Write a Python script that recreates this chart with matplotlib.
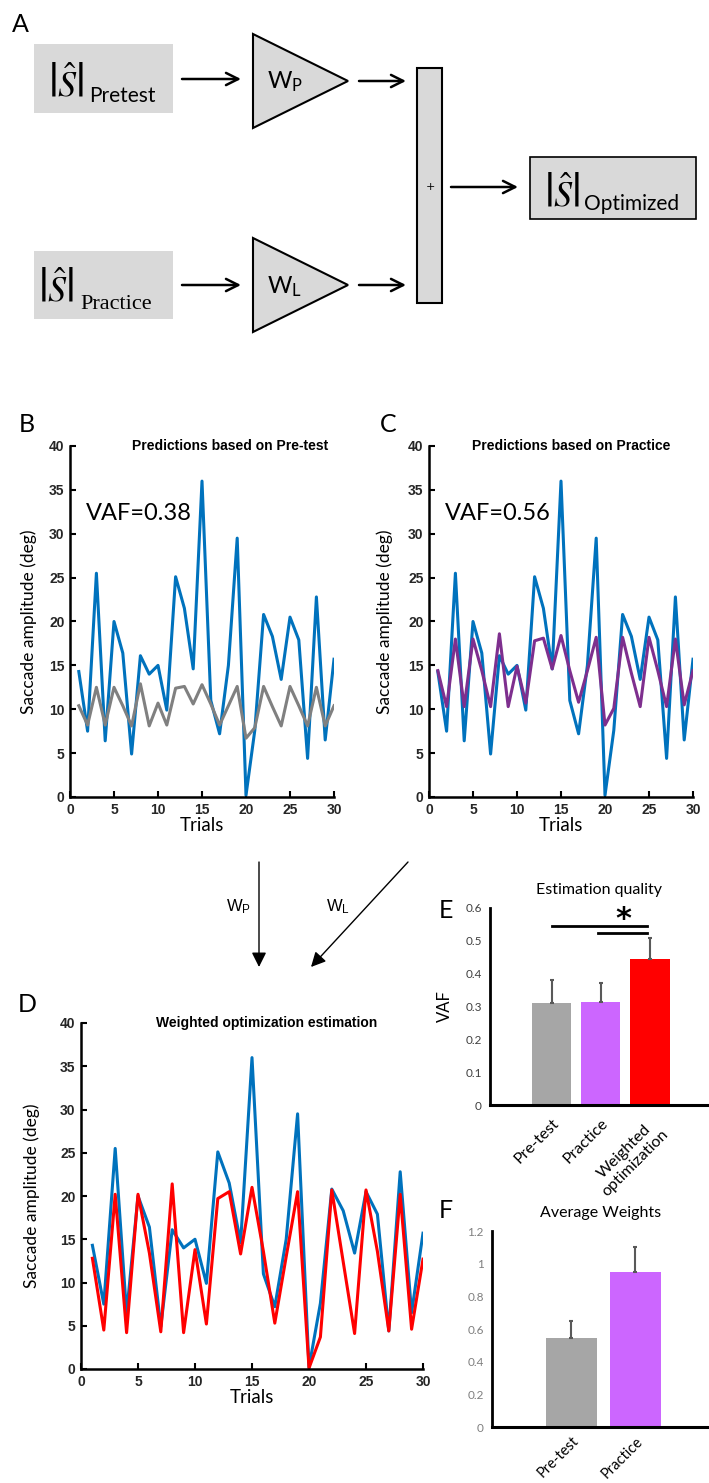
import matplotlib
matplotlib.use('Agg')
import matplotlib.pyplot as plt
from matplotlib.patches import Polygon, Rectangle
import numpy as np

plt.rcParams['mathtext.fontset'] = 'stix'

# dados
trials = np.arange(1, 31)
actual = [14.3, 7.5, 25.5, 6.4, 20.0, 16.4, 4.9, 16.1, 14.0, 15.0, 9.9, 25.1, 21.5, 14.6, 36.0,
          11.0, 7.2, 15.0, 29.5, 0.2, 7.6, 20.8, 18.3, 13.4, 20.5, 17.9, 4.4, 22.8, 6.5, 15.7]
pretest_pred = [10.4, 8.2, 12.5, 8.2, 12.5, 10.4, 8.1, 12.9, 8.1, 10.7, 8.2, 12.4, 12.6, 10.6, 12.8,
                10.6, 8.2, 10.4, 12.6, 6.7, 7.9, 12.6, 10.3, 8.1, 12.6, 10.4, 8.1, 12.5, 8.1, 10.4]
practice_pred = [14.4, 10.3, 18.0, 10.3, 18.0, 14.4, 10.3, 18.6, 10.3, 14.9, 10.7, 17.8, 18.1, 14.6, 18.4,
                 14.4, 10.8, 14.4, 18.2, 8.2, 10.1, 18.2, 14.1, 10.3, 18.2, 14.4, 10.3, 18.0, 10.5, 14.4]
weighted_pred = [12.8, 4.5, 20.2, 4.2, 20.2, 13.4, 4.3, 21.4, 4.2, 13.8, 5.2, 19.7, 20.5, 13.3, 21.0,
                 13.6, 5.3, 13.0, 20.5, 0.1, 3.7, 20.7, 12.4, 4.1, 20.7, 13.6, 4.4, 20.2, 4.6, 12.7]
vaf_pretest = 0.38
vaf_practice = 0.56

vaf_groups = ['Pre-test', 'Practice', 'Weighted\noptimization']
vaf_mean = [0.31, 0.314, 0.445]
vaf_err = [0.072, 0.057, 0.065]
weight_groups = ['Pre-test', 'Practice']
weight_mean = [0.543, 0.949]
weight_err = [0.108, 0.156]

W, H = 709, 1483
fig = plt.figure(figsize=(W / 100, H / 100), dpi=100)

def px_axes(l, t, r, b):
    return fig.add_axes([l / W, 1 - b / H, (r - l) / W, (b - t) / H])

# camada de fundo em pixels (diagrama A, setas, letras)
ov = fig.add_axes([0, 0, 1, 1])
ov.set_xlim(0, W)
ov.set_ylim(H, 0)
ov.set_axis_off()

gray = '#d9d9d9'
ov.add_patch(Rectangle((34, 44), 139, 69, fc=gray, ec='none'))
ov.add_patch(Rectangle((34, 251), 139, 68, fc=gray, ec='none'))
ov.add_patch(Polygon([(253, 34), (253, 128), (348, 81)], closed=True, fc=gray, ec='k', lw=1.5))
ov.add_patch(Polygon([(253, 238), (253, 332), (348, 285)], closed=True, fc=gray, ec='k', lw=1.5))
ov.add_patch(Rectangle((417, 68), 25, 235, fc=gray, ec='k', lw=1.5))
ov.add_patch(Rectangle((530, 157), 166, 62, fc=gray, ec='k', lw=1.2))

def seta(x0, y0, x1, y1, estilo='->', lw=1.8, ms=22):
    ov.annotate('', xy=(x1, y1), xytext=(x0, y0),
                arrowprops=dict(arrowstyle=estilo, lw=lw, color='k', mutation_scale=ms,
                                shrinkA=0, shrinkB=0))

seta(182, 79, 241, 79)
seta(359, 81, 406, 81)
seta(182, 285, 241, 285)
seta(359, 285, 406, 285)
seta(451, 187, 518, 187)
seta(259, 862, 259, 967, estilo='-|>', lw=1, ms=22)
seta(408, 862, 311, 967, estilo='-|>', lw=1, ms=22)

shat = r'$\left|\hat{S}\right|$'
ov.text(48, 84, shat, fontsize=26, va='center', ha='left')
ov.text(89, 102, 'Pretest', fontsize=15, family='Lato', va='baseline')
ov.text(38, 289, shat, fontsize=26, va='center', ha='left')
ov.text(80, 309, 'Practice', fontsize=16, family='Liberation Serif', va='baseline')
ov.text(544, 194, shat, fontsize=26, va='center', ha='left')
ov.text(584, 210, 'Optimized', fontsize=15, family='Lato', va='baseline')
ov.text(267, 89, r'W$_{\mathregular{P}}$', fontsize=17, family='Lato', va='baseline')
ov.text(267, 294, r'W$_{\mathregular{L}}$', fontsize=17, family='Lato', va='baseline')
ov.text(430, 187, '+', fontsize=8, ha='center', va='center')
ov.text(226, 912, r'W$_{\mathregular{P}}$', fontsize=12, family='Liberation Sans', va='baseline')
ov.text(326, 912, r'W$_{\mathregular{L}}$', fontsize=12, family='Liberation Sans', va='baseline')

for letra, x, y in [('A', 20, 24), ('B', 27, 425), ('C', 388, 425), ('D', 27, 1004),
                    ('E', 446, 911), ('F', 446, 1210)]:
    ov.text(x, y, letra, fontsize=18, family='Lato', ha='center', va='center')

def painel_linhas(ax, pred, cor, titulo, tx, vaf=None, ylab_x=-0.125):
    ax.plot(trials, actual, color='#0072bd', lw=2.2)
    ax.plot(trials, pred, color=cor, lw=2.2)
    ax.set_xlim(0, 30)
    ax.set_ylim(0, 40)
    ax.set_xticks(range(0, 31, 5))
    ax.set_yticks(range(0, 41, 5))
    for s in ['top', 'right']:
        ax.spines[s].set_visible(False)
    for s in ['left', 'bottom']:
        ax.spines[s].set_linewidth(1.8)
    ax.tick_params(direction='in', length=4, width=1.5, labelsize=10, labelcolor='#262626', pad=4)
    for lab in ax.get_xticklabels() + ax.get_yticklabels():
        lab.set_fontweight('bold')
        lab.set_family('Liberation Sans')
    ax.text(tx, 1.0, titulo, transform=ax.transAxes, ha='center', va='center',
            fontsize=10, fontweight='bold', family='Liberation Sans')
    ax.set_xlabel('Trials', family='Lato', fontsize=13.5, labelpad=0)
    ax.set_ylabel('Saccade amplitude (deg)', family='Lato', fontsize=12.5)
    ax.yaxis.set_label_coords(ylab_x, 0.5)
    if vaf is not None:
        ax.text(1.8, 32.3, 'VAF=%.2f' % vaf, fontsize=17, family='Lato', va='center')

axB = px_axes(70, 446, 334, 797)
painel_linhas(axB, pretest_pred, '#808080', 'Predictions based on Pre-test', 0.606, vaf_pretest, -0.125)
axC = px_axes(429, 446, 693, 797)
painel_linhas(axC, practice_pred, '#7e2f8e', 'Predictions based on Practice', 0.54, vaf_practice, -0.136)
axD = px_axes(81, 1023, 423, 1369)
painel_linhas(axD, weighted_pred, '#ff0000', 'Weighted optimization estimation', 0.544, None, -0.12)

def painel_barras(ax, grupos, medias, erros, cores, titulo, ylim, yticks, tickcor, xsize=11.5, xpad=8):
    x = np.arange(1, len(grupos) + 1)
    ax.bar(x, medias, width=0.8, color=cores)
    ax.errorbar(x, medias, yerr=[np.zeros(len(erros)), erros], fmt='none', ecolor='#595959',
                elinewidth=1.5, capsize=1.5, capthick=1.5)
    ax.set_ylim(*ylim)
    ax.set_yticks(yticks)
    ax.set_yticklabels([('%g' % v) for v in yticks])
    ax.set_xticks(x)
    ax.set_xticklabels(grupos, rotation=45, ha='right', rotation_mode='anchor',
                       multialignment='center')
    for s in ['top', 'right']:
        ax.spines[s].set_visible(False)
    ax.spines['left'].set_linewidth(2)
    ax.spines['bottom'].set_linewidth(2.2)
    ax.tick_params(axis='y', length=0, labelsize=8.5, labelcolor=tickcor, pad=6)
    ax.tick_params(axis='x', length=0, labelsize=xsize, pad=xpad)
    for lab in ax.get_xticklabels() + ax.get_yticklabels():
        lab.set_family('Lato')
    ax.set_title(titulo, family='Lato', fontsize=11.5, pad=10)

axE = px_axes(490, 908, 709, 1105)
painel_barras(axE, vaf_groups, vaf_mean, vaf_err, ['#a6a6a6', '#cc66ff', '#ff0000'],
              'Estimation quality', (0, 0.6), [0, 0.1, 0.2, 0.3, 0.4, 0.5, 0.6], '#404040')
axE.set_xlim(-0.25, 4.2)
axE.set_ylabel('VAF', family='Lato', fontsize=12)
axE.yaxis.set_label_coords(-0.17, 0.5)
axE.plot([1, 2.95], [0.544, 0.544], color='k', lw=2)
axE.plot([1.95, 2.95], [0.524, 0.524], color='k', lw=2)
axE.text(2.45, 0.565, '*', fontsize=22, fontweight='bold', ha='center', va='center')

axF = px_axes(492, 1231, 709, 1427)
painel_barras(axF, weight_groups, weight_mean, weight_err, ['#a6a6a6', '#cc66ff'],
              'Average Weights', (0, 1.2), [0, 0.2, 0.4, 0.6, 0.8, 1, 1.2], '#7f7f7f',
              xsize=10.5, xpad=5)
axF.set_xlim(-0.24, 3.15)

fig.savefig('out.png', dpi=100)
